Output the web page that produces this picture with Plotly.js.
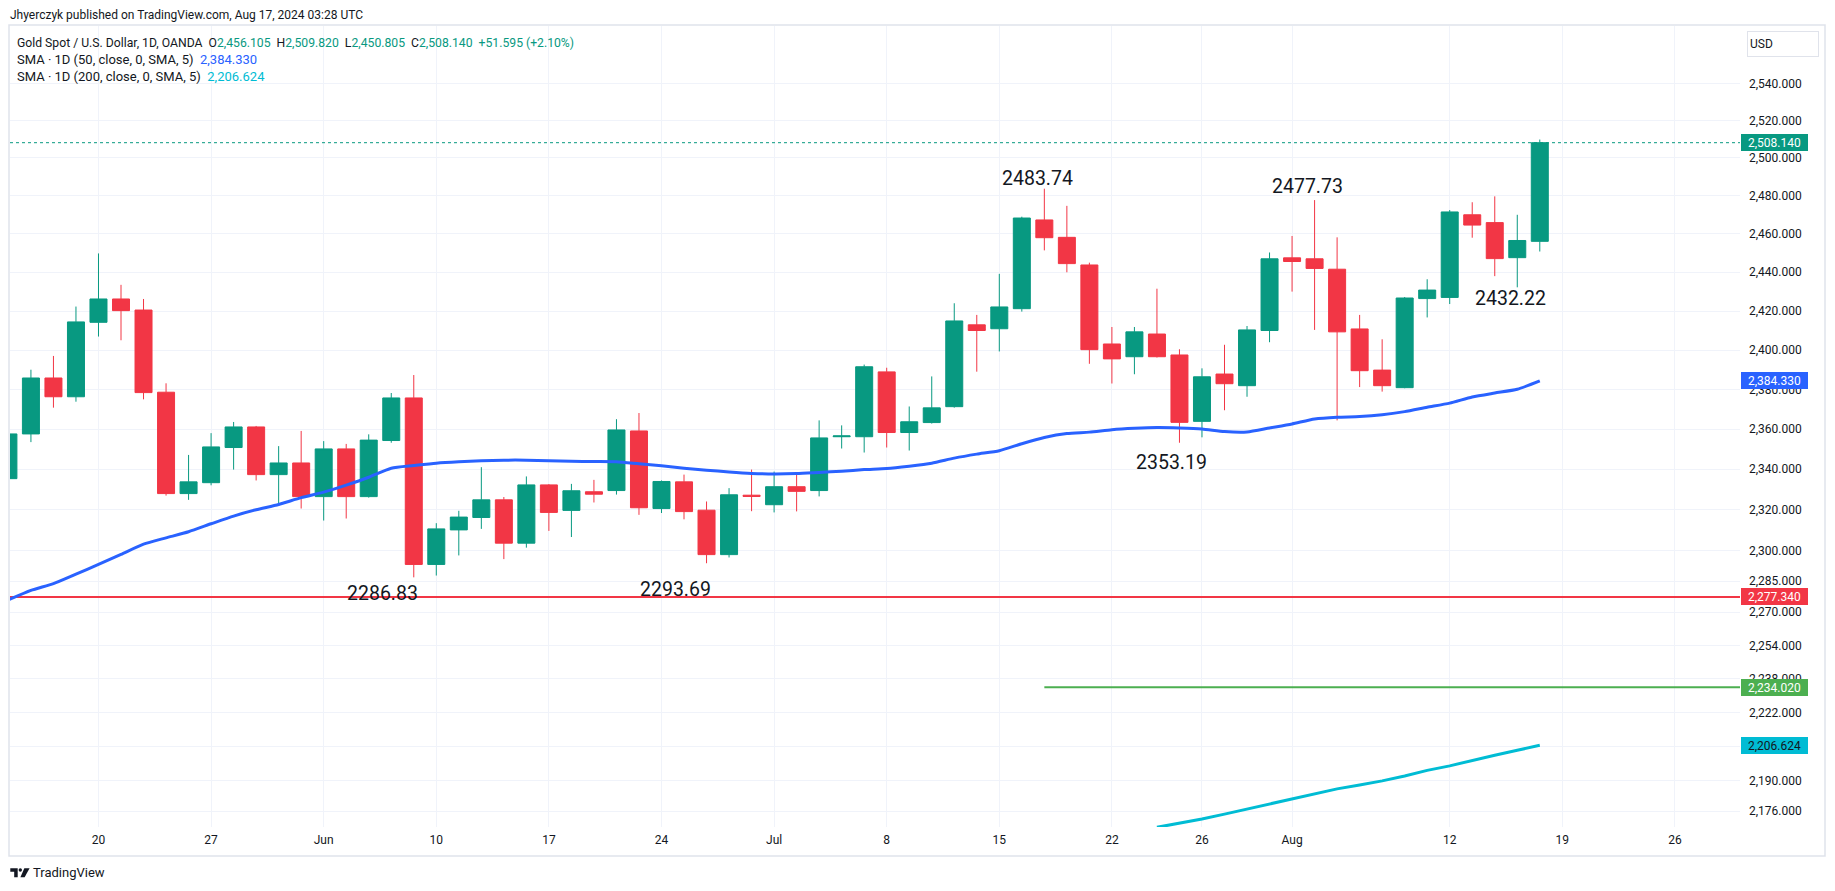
<!DOCTYPE html>
<html><head><meta charset="utf-8">
<script src="https://cdn.plot.ly/plotly-3.0.1.min.js"></script>
<style>html,body{margin:0;padding:0;background:#fff;overflow:hidden}#chart{width:1835px;height:891px}</style>
</head><body><div id="chart"></div>
<script>
// ---------- DATA ----------
const dates = ['2024-05-14','2024-05-15','2024-05-16','2024-05-17','2024-05-20','2024-05-21','2024-05-22','2024-05-23','2024-05-24',
'2024-05-27','2024-05-28','2024-05-29','2024-05-30','2024-05-31','2024-06-03','2024-06-04','2024-06-05','2024-06-06','2024-06-07',
'2024-06-10','2024-06-11','2024-06-12','2024-06-13','2024-06-14','2024-06-17','2024-06-18','2024-06-19','2024-06-20','2024-06-21',
'2024-06-24','2024-06-25','2024-06-26','2024-06-27','2024-06-28','2024-07-01','2024-07-02','2024-07-03','2024-07-04','2024-07-05',
'2024-07-08','2024-07-09','2024-07-10','2024-07-11','2024-07-12','2024-07-15','2024-07-16','2024-07-17','2024-07-18','2024-07-19',
'2024-07-22','2024-07-23','2024-07-24','2024-07-25','2024-07-26','2024-07-29','2024-07-30','2024-07-31','2024-08-01','2024-08-02',
'2024-08-05','2024-08-06','2024-08-07','2024-08-08','2024-08-09','2024-08-12','2024-08-13','2024-08-14','2024-08-15','2024-08-16'];
const openP = [2335.3,2357.6,2385.8,2376.3,2414.2,2426.2,2420.5,2378.6,2327.9,
2333.3,2350.8,2361.1,2337.3,2343.1,2326.4,2350.1,2326.4,2354.3,2375.7,
2293.1,2310.0,2316.1,2324.8,2303.5,2332.2,2319.6,2328.8,2329.4,2359.1,
2320.5,2333.7,2319.7,2297.9,2327.1,2322.4,2331.3,2329.4,2356.2,2356.2,
2388.9,2358.3,2363.3,2371.3,2412.9,2410.9,2421.2,2467.3,2458.2,2443.8,
2403.1,2396.6,2408.2,2397.5,2363.9,2387.8,2381.9,2410.0,2447.5,2447.0,
2441.6,2410.8,2389.8,2380.9,2426.4,2427.0,2470.0,2465.9,2447.6,2456.105];
const highP = [2359.5,2390.0,2397.0,2422.3,2449.8,2433.5,2426.2,2383.1,2347.1,
2358.0,2363.6,2361.6,2351.5,2359.1,2354.0,2352.6,2357.4,2378.2,2387.3,
2313.3,2319.4,2341.0,2326.2,2336.4,2332.6,2332.7,2334.7,2365.0,2368.1,
2334.4,2337.3,2324.0,2330.6,2339.8,2338.8,2337.6,2364.4,2361.9,2392.6,
2391.0,2371.4,2386.6,2424.0,2418.0,2439.2,2469.0,2483.74,2474.7,2445.0,
2411.8,2411.8,2431.5,2400.4,2390.7,2402.7,2412.3,2450.3,2458.9,2477.73,
2458.2,2418.0,2405.5,2427.2,2436.4,2472.5,2476.6,2479.7,2470.0,2509.82];
const lowP = [2334.1,2353.5,2370.8,2373.8,2406.9,2405.0,2375.0,2326.9,2324.8,
2332.0,2339.8,2334.4,2322.7,2320.5,2314.6,2315.6,2325.9,2353.2,2286.83,
2287.7,2297.5,2310.5,2295.7,2301.3,2309.5,2306.5,2323.5,2327.4,2317.4,
2318.3,2315.2,2293.69,2296.5,2319.2,2318.6,2319.1,2326.5,2350.3,2348.3,
2350.8,2349.3,2362.8,2370.8,2389.0,2399.3,2419.7,2451.4,2440.0,2393.0,
2383.0,2387.7,2396.2,2353.19,2355.9,2369.5,2376.3,2404.0,2430.0,2410.3,
2364.4,2381.2,2378.9,2380.6,2416.7,2423.6,2458.0,2438.0,2432.22,2450.805];
const closeP = [2357.6,2385.8,2376.3,2414.4,2426.2,2420.2,2378.4,2327.9,2333.7,
2351.1,2361.1,2337.3,2343.1,2326.4,2350.1,2326.4,2354.5,2375.7,2293.1,
2310.5,2316.3,2324.8,2303.5,2332.2,2318.6,2329.3,2327.6,2359.6,2320.9,
2333.9,2319.0,2297.9,2327.3,2326.5,2331.3,2329.0,2355.6,2356.6,2391.5,
2358.3,2363.7,2370.7,2414.9,2410.0,2422.1,2468.3,2458.0,2444.5,2400.2,
2395.5,2409.3,2396.6,2363.4,2386.4,2382.9,2410.3,2447.0,2445.6,2442.0,
2409.3,2389.5,2381.9,2426.7,2430.8,2471.5,2464.6,2447.1,2456.545,2508.14];
const sma50 = [2275.9,2280.5,2283.8,2288.4,2293.1,2298.0,2303.0,2306.1,2309.1,2313.0,
2316.8,2319.9,2322.5,2325.9,2328.6,2332.1,2336.0,2340.5,2341.8,2343.0,
2343.7,2344.2,2344.5,2344.5,2344.2,2343.9,2343.8,2343.7,2342.7,2341.7,
2340.5,2339.5,2338.6,2337.9,2337.6,2337.8,2338.4,2339.0,2339.8,2340.3,
2341.5,2343.0,2345.5,2347.5,2349.2,2352.7,2355.8,2357.8,2358.5,2359.7,
2360.4,2360.8,2360.6,2360.1,2358.8,2358.6,2360.6,2362.6,2365.1,2366.0,
2366.3,2367.2,2368.8,2371.0,2373.1,2376.2,2378.2,2380.1,2384.33];
const sma200Dates = dates.slice(51);
const sma200 = [2168.5,2170.3,2172.3,2174.6,2176.9,2179.4,2181.8,2184.0,2186.3,2188.1,
2190.0,2192.3,2194.9,2197.0,2199.6,2202.0,2204.3,2206.624];
const redLevel = 2277.34;
const greenLevel = 2234.02;
const greenLevelStart = '2024-07-17';
const yTickVals = [2540,2520,2500,2480,2460,2440,2420,2400,2380,2360,2340,2320,2300,2285,2270,2254,2238,2222,2206,2190,2176];
const xTickDates = ['2024-05-20','2024-05-27','2024-06-03','2024-06-10','2024-06-17','2024-06-24','2024-07-01','2024-07-08',
'2024-07-15','2024-07-22','2024-07-26','2024-08-01','2024-08-12','2024-08-19','2024-08-26'];
const xTickLabels = ['20','27','Jun','10','17','24','Jul','8','15','22','26','Aug','12','19','26'];
const markDates = ['2024-07-17','2024-08-02','2024-08-15','2024-07-25','2024-06-26','2024-06-07'];
const markValues = [2483.74,2477.73,2432.22,2353.19,2293.69,2286.83];

// ---------- HELPERS ----------
const noon = d => d + ' 12:00';
const fmt3 = v => v.toLocaleString('en-US',{minimumFractionDigits:3,maximumFractionDigits:3});
const L = 10, T = 26, PW = 1730, PH = 801, W = 1835, H = 891;
const px = x => (x - L) / PW;
const py = y => (T + PH - y) / PH;
const FONT = 'Roboto, "Open Sans", sans-serif';
const TXT = '#131722';
const UP = '#089981', DOWN = '#F23645', BLUE = '#2962FF', CYAN = '#00BCD4', GREEN = '#4CAF50';
const xRange = ['2024-05-14 13:42','2024-08-29 09:22'];
const last = dates.length - 1;

const traces = [
  {type:'scatter', mode:'lines', x:xRange, y:[closeP[last],closeP[last]], line:{color:UP,width:1,dash:'dot'}, hoverinfo:'skip'},
  {type:'scatter', mode:'lines', x:xRange, y:[redLevel,redLevel], line:{color:DOWN,width:2}, hoverinfo:'skip'},
  {type:'scatter', mode:'lines', x:[noon(greenLevelStart), xRange[1]], y:[greenLevel,greenLevel], line:{color:GREEN,width:2}, hoverinfo:'skip'},
  {type:'scatter', mode:'lines', x:dates.map(noon), y:sma50, line:{color:BLUE,width:3,shape:'spline',smoothing:0.6}, hoverinfo:'skip'},
  {type:'scatter', mode:'lines', x:sma200Dates.map(noon), y:sma200, line:{color:CYAN,width:3}, hoverinfo:'skip'},
  {type:'candlestick', x:dates.map(noon), open:openP, high:highP, low:lowP, close:closeP,
   increasing:{line:{color:UP,width:1}, fillcolor:UP},
   decreasing:{line:{color:DOWN,width:1}, fillcolor:DOWN},
   whiskerwidth:0, hoverinfo:'skip'}
];

const ann = [];
// high/low value labels
const shifts = [[-7,10],[-7,14],[-7,-11],[-8,-20],[-31,-26],[-31,-16]];
markDates.forEach((d,i)=>{
  ann.push({x:noon(d), y:Math.log10(markValues[i]), xref:'x', yref:'y', text:markValues[i].toFixed(2),
    showarrow:false, xanchor:'center', yanchor:'middle', xshift:shifts[i][0], yshift:shifts[i][1],
    font:{family:FONT,size:19.5,color:TXT}});
});
// price-axis value boxes
const boxes = [[closeP[last],UP,'#ffffff'],[sma50[last],BLUE,'#ffffff'],[redLevel,DOWN,'#ffffff'],[greenLevel,GREEN,'#ffffff'],[sma200[sma200.length-1],CYAN,'#131722']];
boxes.forEach(b=>{
  ann.push({xref:'paper', x:1, xanchor:'left', xshift:1, yref:'y', y:Math.log10(b[0]), yanchor:'middle',
    text:fmt3(b[0]), showarrow:false, bgcolor:b[1], bordercolor:b[1], borderwidth:1, borderpad:1,
    width:63, height:13, font:{family:FONT,size:12,color:b[2]}});
});
// header
ann.push({xref:'paper',yref:'paper',x:px(8),y:py(15),xanchor:'left',yanchor:'middle',showarrow:false,
  text:'Jhyerczyk published on TradingView.com, Aug 17, 2024 03:28 UTC',font:{family:FONT,size:12,color:TXT}});
const chg = closeP[last]-closeP[last-1];
const pct = chg/closeP[last-1]*100;
const g = s => '<span style="color:'+UP+'">'+s+'</span>';
ann.push({xref:'paper',yref:'paper',x:px(15),y:py(42.7),xanchor:'left',yanchor:'middle',showarrow:false,
  text:'Gold Spot / U.S. Dollar, 1D, OANDA  O'+g(fmt3(openP[last]))+'  H'+g(fmt3(highP[last]))+'  L'+g(fmt3(lowP[last]))+'  C'+g(fmt3(closeP[last]))+'  '+g('+'+chg.toFixed(3)+' (+'+pct.toFixed(2)+'%)'),
  font:{family:FONT,size:12.2,color:TXT}});
ann.push({xref:'paper',yref:'paper',x:px(15),y:py(59.3),xanchor:'left',yanchor:'middle',showarrow:false,
  text:'SMA · 1D (50, close, 0, SMA, 5)  <span style="color:'+BLUE+'">'+fmt3(sma50[last])+'</span>',font:{family:FONT,size:13,color:TXT}});
ann.push({xref:'paper',yref:'paper',x:px(15),y:py(76),xanchor:'left',yanchor:'middle',showarrow:false,
  text:'SMA · 1D (200, close, 0, SMA, 5)  <span style="color:'+CYAN+'">'+fmt3(sma200[sma200.length-1])+'</span>',font:{family:FONT,size:13,color:TXT}});
// USD box
ann.push({xref:'paper',yref:'paper',x:px(1783),y:py(44),xanchor:'center',yanchor:'middle',showarrow:false,
  text:'USD',align:'left',width:66,height:20,bgcolor:'#ffffff',bordercolor:'#e0e3eb',borderwidth:1,borderpad:2,
  font:{family:FONT,size:12,color:TXT}});
// logo text
ann.push({xref:'paper',yref:'paper',x:px(31),y:py(873),xanchor:'left',yanchor:'middle',showarrow:false,
  text:'TradingView',font:{family:FONT,size:13,color:TXT}});

const P = (pts)=> 'M '+pts.map(p=>px(p[0])+' '+py(p[1])).join(' L ')+' Z';
const shapes = [
  {type:'rect',xref:'paper',yref:'paper',x0:px(9),x1:px(1825),y0:py(856),y1:py(25),line:{color:'#e0e3eb',width:1.5},fillcolor:'rgba(0,0,0,0)',layer:'above'},
  {type:'path',xref:'paper',yref:'paper',path:P([[10.3,868.3],[17.7,868.3],[17.7,877.3],[14.2,877.3],[14.2,871.8],[10.3,871.8]]),fillcolor:TXT,line:{width:0}},
  {type:'circle',xref:'paper',yref:'paper',x0:px(18.6),x1:px(22),y0:py(871.7),y1:py(868.3),fillcolor:TXT,line:{width:0}},
  {type:'path',xref:'paper',yref:'paper',path:P([[24.3,868.3],[29.6,868.3],[24.6,877.3],[20.4,877.3]]),fillcolor:TXT,line:{width:0}}
];

const layout = {
  width:W, height:H, margin:{l:L, r:W-L-PW, t:T, b:H-T-PH, pad:0},
  paper_bgcolor:'#ffffff', plot_bgcolor:'#ffffff', showlegend:false, hovermode:false,
  boxgap:0.245, boxgroupgap:0,
  font:{family:FONT,color:TXT,size:12},
  xaxis:{type:'date', range:xRange, rangebreaks:[{bounds:['sat','mon']}], rangeslider:{visible:false},
    tickmode:'array', tickvals:xTickDates.map(noon), ticktext:xTickLabels, ticks:'', showline:false, zeroline:false,
    showgrid:true, gridcolor:'#f0f3fa', gridwidth:1, tickfont:{family:FONT,size:12,color:TXT}, ticklabelstandoff:4},
  yaxis:{type:'log', side:'right', range:[3.336189,3.410123], tickmode:'array', tickvals:yTickVals, ticktext:yTickVals.map(fmt3),
    ticks:'', showline:false, zeroline:false, showgrid:true, gridcolor:'#f0f3fa', gridwidth:1,
    tickfont:{family:FONT,size:12,color:TXT}, ticklabelstandoff:8},
  annotations:ann, shapes:shapes
};
Plotly.newPlot('chart', traces, layout, {displayModeBar:false, staticPlot:true});
</script></body></html>
